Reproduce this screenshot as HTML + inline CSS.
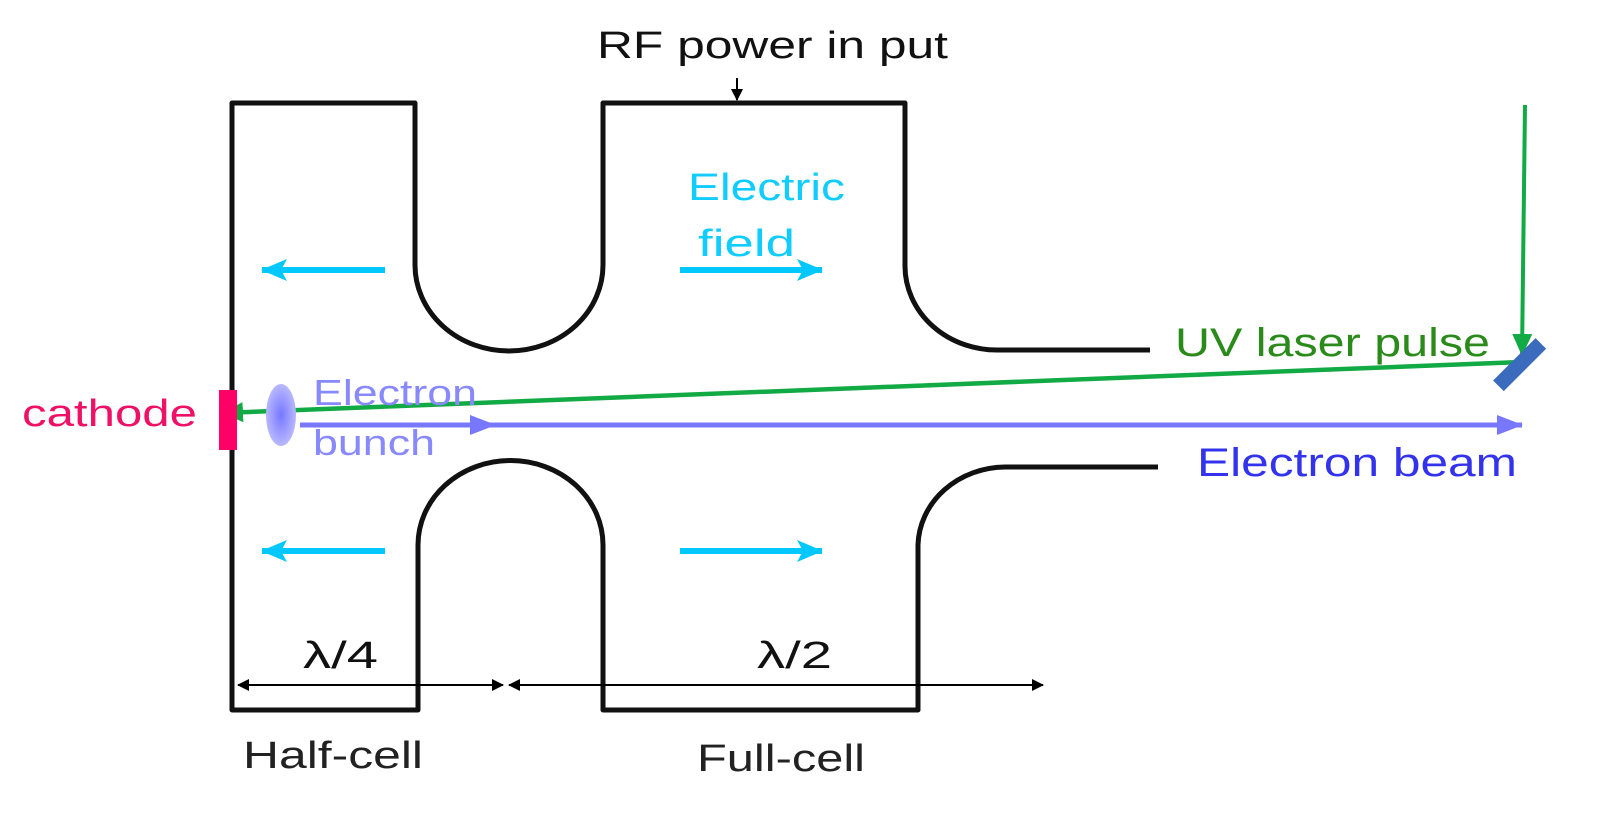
<!DOCTYPE html>
<html><head><meta charset="utf-8"><style>
html,body{margin:0;padding:0;background:#fff;}
svg{display:block;}
text{font-family:"Liberation Sans",sans-serif;}
</style></head><body>
<svg width="1613" height="819" viewBox="0 0 1613 819" xmlns="http://www.w3.org/2000/svg">
<defs>
<marker id="ab" markerWidth="12" markerHeight="12" refX="11" refY="6" orient="auto-start-reverse" markerUnits="userSpaceOnUse"><path d="M0,0 L12,6 L0,12 Z" fill="#000"/></marker>
<marker id="ac" markerWidth="26" markerHeight="22" refX="25" refY="11" orient="auto" markerUnits="userSpaceOnUse"><path d="M0,0 L26,11 L0,22 L6,11 Z" fill="#00c8ff"/></marker>
<marker id="ag" markerWidth="22" markerHeight="20" refX="21" refY="10" orient="auto" markerUnits="userSpaceOnUse"><path d="M0,0 L22,10 L0,20 Z" fill="#11aa44"/></marker>
<marker id="ap" markerWidth="26" markerHeight="20" refX="25" refY="10" orient="auto" markerUnits="userSpaceOnUse"><path d="M0,0 L26,10 L0,20 Z" fill="#7777ff"/></marker>
<radialGradient id="bg"><stop offset="0" stop-color="#7777ff"/><stop offset="1" stop-color="#b8b8ff"/></radialGradient>
</defs>
<g fill="none" stroke="#111" stroke-width="5" stroke-linejoin="round">
<path d="M1150,350 L1000,350 A92,84 0 0 1 905,266 L905,103 L603,103 L603,265 A94,86 0 0 1 415,265 L415,103 L232,103 L232,710 L418,710 L418,545 A92,84 0 0 1 603,545 L603,710 L918,710 L918,545 A88,80 0 0 1 1005,467 L1158,467"/>
</g>
<line x1="737" y1="78" x2="737" y2="100" stroke="#000" stroke-width="2" marker-end="url(#ab)"/>
<text x="597" y="58" font-size="38" textLength="351" lengthAdjust="spacingAndGlyphs" fill="#111">RF power in put</text>
<text x="688" y="200" font-size="38" textLength="157" lengthAdjust="spacingAndGlyphs" fill="#11ccff">Electric</text>
<text x="698" y="256" font-size="38" textLength="97" lengthAdjust="spacingAndGlyphs" fill="#11ccff">field</text>
<g stroke="#00c8ff" stroke-width="6">
<line x1="385" y1="270" x2="262" y2="270" marker-end="url(#ac)"/>
<line x1="680" y1="270" x2="822" y2="270" marker-end="url(#ac)"/>
<line x1="385" y1="551" x2="262" y2="551" marker-end="url(#ac)"/>
<line x1="680" y1="551" x2="822" y2="551" marker-end="url(#ac)"/>
</g>
<line x1="1525" y1="105" x2="1522" y2="355" stroke="#11aa44" stroke-width="4" marker-end="url(#ag)"/>
<line x1="1522" y1="362" x2="222" y2="413" stroke="#11aa44" stroke-width="4.5" marker-end="url(#ag)"/>
<rect x="1512" y="335" width="15" height="60" fill="#3a6bbd" transform="rotate(45 1520 365)"/>
<line x1="300" y1="425" x2="1522" y2="425" stroke="#7777ff" stroke-width="5" marker-end="url(#ap)"/>
<path d="M470,415 L496,425 L470,435 Z" fill="#7777ff"/>
<ellipse cx="281" cy="415" rx="15" ry="31" fill="url(#bg)"/>
<rect x="219" y="390" width="18" height="60" fill="#ff0066"/>
<text x="22" y="426" font-size="38" textLength="175" lengthAdjust="spacingAndGlyphs" fill="#ee1166">cathode</text>
<text x="313" y="405" font-size="36" textLength="164" lengthAdjust="spacingAndGlyphs" fill="#8888ff">Electron</text>
<text x="313" y="455" font-size="36" textLength="122" lengthAdjust="spacingAndGlyphs" fill="#8888ff">bunch</text>
<text x="1175" y="356" font-size="40" textLength="315" lengthAdjust="spacingAndGlyphs" fill="#2a8a1a">UV laser pulse</text>
<text x="1197" y="476" font-size="40" textLength="320" lengthAdjust="spacingAndGlyphs" fill="#3333ee">Electron beam</text>
<line x1="238" y1="685" x2="503" y2="685" stroke="#000" stroke-width="2" marker-start="url(#ab)" marker-end="url(#ab)"/>
<line x1="509" y1="685" x2="1043" y2="685" stroke="#000" stroke-width="2" marker-start="url(#ab)" marker-end="url(#ab)"/>
<text x="303" y="668" font-size="38" textLength="75" lengthAdjust="spacingAndGlyphs" fill="#111">λ/4</text>
<text x="757" y="668" font-size="38" textLength="75" lengthAdjust="spacingAndGlyphs" fill="#111">λ/2</text>
<text x="243" y="768" font-size="38" textLength="180" lengthAdjust="spacingAndGlyphs" fill="#222">Half-cell</text>
<text x="697" y="771" font-size="38" textLength="168" lengthAdjust="spacingAndGlyphs" fill="#222">Full-cell</text>
</svg>
</body></html>
